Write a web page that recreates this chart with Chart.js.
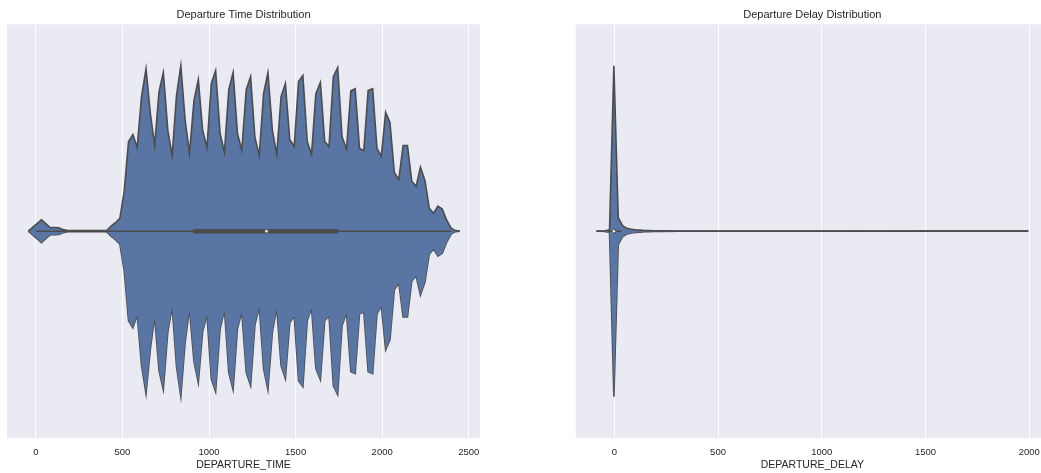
<!DOCTYPE html>
<html>
<head>
<meta charset="utf-8">
<script src="https://cdn.jsdelivr.net/npm/chart.js@4/dist/chart.umd.min.js"></script>
<style>
  html, body { margin: 0; padding: 0; background: #fff; overflow: hidden; width: 1041px; height: 473px; }
  canvas { position: absolute; top: 0; }
  #timeChart { left: 0; }
  #delayChart { left: 560px; }
</style>
</head>
<body>
<canvas id="timeChart" width="520" height="473"></canvas>
<canvas id="delayChart" width="520" height="473"></canvas>
<script>
// KDE grid and relative density (peak = 1) for DEPARTURE_TIME
const timeGrid = [-44, -19, 6, 32, 57, 82, 107, 132, 157, 183, 208, 233, 258, 283, 308, 334, 359, 384, 409, 434,
  459, 485, 510, 535, 560, 585, 610, 636, 661, 686, 711, 736, 762, 787, 812, 837, 862, 887, 913, 938,
  963, 988, 1013, 1038, 1064, 1089, 1114, 1139, 1164, 1189, 1215, 1240, 1265, 1290, 1315, 1340, 1366, 1391, 1416, 1441,
  1466, 1492, 1517, 1542, 1567, 1592, 1617, 1643, 1668, 1693, 1718, 1743, 1768, 1794, 1819, 1844, 1869, 1894, 1919, 1945,
  1970, 1995, 2020, 2045, 2070, 2096, 2121, 2146, 2171, 2196, 2221, 2247, 2272, 2297, 2322, 2347, 2373, 2398, 2423, 2448];
const timeDensity = [0, 0.023, 0.045, 0.069, 0.045, 0.022, 0.022, 0.020, 0.009, 0.004,
  0.003, 0.003, 0.003, 0.003, 0.003, 0.003, 0.003, 0.003, 0.004, 0.030,
  0.051, 0.078, 0.241, 0.542, 0.584, 0.506, 0.813, 0.982, 0.711, 0.518,
  0.843, 0.958, 0.608, 0.458, 0.819, 1.0, 0.669, 0.470, 0.789, 0.916,
  0.608, 0.506, 0.892, 0.970, 0.590, 0.476, 0.855, 0.958, 0.590, 0.488,
  0.855, 0.934, 0.566, 0.458, 0.831, 0.958, 0.608, 0.464, 0.813, 0.892,
  0.554, 0.512, 0.904, 0.940, 0.542, 0.464, 0.831, 0.898, 0.542, 0.512,
  0.934, 0.988, 0.572, 0.494, 0.849, 0.861, 0.500, 0.488, 0.849, 0.861,
  0.500, 0.452, 0.717, 0.657, 0.355, 0.313, 0.518, 0.518, 0.301, 0.271,
  0.386, 0.307, 0.139, 0.108, 0.151, 0.133, 0.066, 0.018, 0.003, 0];
const timeTicks = [0, 500, 1000, 1500, 2000, 2500];
const timeQuartiles = [908, 1332, 1745];   // q1, median, q3
const timeWhiskers = [1, 2400];

// same for DEPARTURE_DELAY (long, almost empty right tail)
const delayGrid = [-86, -65, -44, -23, -2, 19, 40, 61, 82, 103, 124, 145, 166, 187, 229, 313, 500, 1000, 1500, 1995];
const delayDensity = [0, 0.001, 0.002, 0.008, 1.0, 0.082, 0.033, 0.017, 0.011, 0.008, 0.006, 0.004, 0.003, 0.0024,
  0.0015, 0.0008, 0.0004, 0.0002, 0.0001, 0];
const delayTicks = [0, 500, 1000, 1500, 2000];
const delayQuartiles = [-5, -2, 8];
const delayWhiskers = [-30, 35];

const FILL = "#5875a4";
const LINE = "#4c4c4c";
const TEXT = "#262626";
const HALF_WIDTH = 0.4;

Chart.defaults.font.family = '"Liberation Sans", Arial, sans-serif';

const plotBackground = {
  id: "plotBackground",
  beforeDraw(chart) {
    const { ctx, chartArea: a } = chart;
    ctx.save();
    ctx.fillStyle = "#eaeaf2";
    ctx.fillRect(a.left, a.top, a.width, a.height);
    ctx.restore();
  },
};

function violin(id, title, axisTitle, grid, density, ticks, quartiles, whiskers, xmin, xmax, padLeft, padRight) {
  const upper = grid.map((x, i) => ({ x: x, y: density[i] * HALF_WIDTH }));
  const lower = grid.map((x, i) => ({ x: x, y: -density[i] * HALF_WIDTH }));

  new Chart(document.getElementById(id), {
    type: "line",
    data: {
      datasets: [
        { data: upper, fill: "+1", backgroundColor: FILL, borderColor: LINE, borderWidth: 1.6, pointRadius: 0, order: 3 },
        { data: lower, fill: false, borderColor: LINE, borderWidth: 1.6, pointRadius: 0, order: 3 },
        {
          data: [{ x: whiskers[0], y: 0 }, { x: whiskers[1], y: 0 }],
          borderColor: LINE, borderWidth: 1.5, pointRadius: 0, order: 2,
        },
        {
          data: [{ x: quartiles[0], y: 0 }, { x: quartiles[2], y: 0 }],
          borderColor: LINE, borderWidth: 4.5, borderCapStyle: "butt", pointRadius: 0, order: 1,
        },
        {
          data: [{ x: quartiles[1], y: 0 }],
          showLine: false, pointRadius: 1.6, pointBackgroundColor: "#ffffff",
          pointBorderColor: LINE, pointBorderWidth: 0.6, order: 0,
        },
      ],
    },
    options: {
      responsive: false,
      animation: false,
      layout: { padding: { left: padLeft, right: padRight, top: 0, bottom: 0 } },
      plugins: {
        legend: { display: false },
        tooltip: { enabled: false },
        title: {
          display: true,
          text: title,
          color: TEXT,
          font: { size: 11, weight: "normal" },
          padding: { top: 8.4, bottom: 2.7 },
        },
      },
      scales: {
        x: {
          type: "linear",
          min: xmin,
          max: xmax,
          afterBuildTicks: (scale) => {
            scale.ticks = ticks.map((v) => ({ value: v }));
          },
          // fixed axis band under the plot
          afterFit: (scale) => {
            scale.height = 35;
          },
          ticks: {
            color: TEXT,
            padding: 8.6,
            font: { size: 9.5 },
            maxRotation: 0,
            callback: (v) => String(v),
          },
          grid: { color: "#ffffff", lineWidth: 1, drawTicks: false },
          border: { display: false },
          title: {
            display: true,
            text: axisTitle,
            color: TEXT,
            font: { size: 10.5 },
            padding: { top: 1, bottom: 1.4 },
          },
        },
        y: { display: false, min: -0.5, max: 0.5 },
      },
    },
    plugins: [plotBackground],
  });
}

violin("timeChart", "Departure Time Distribution", "DEPARTURE_TIME",
  timeGrid, timeDensity, timeTicks, timeQuartiles, timeWhiskers, -167, 2565, 7, 40);

violin("delayChart", "Departure Delay Distribution", "DEPARTURE_DELAY",
  delayGrid, delayDensity, delayTicks, delayQuartiles, delayWhiskers, -186, 2095, 15.7, 31);
</script>
</body>
</html>
